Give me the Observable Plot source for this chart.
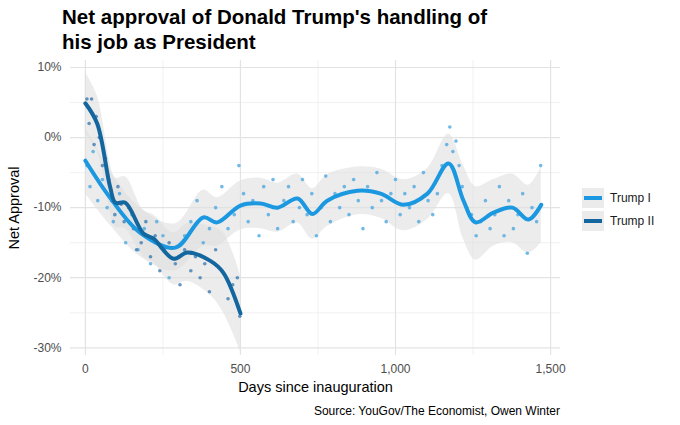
<!DOCTYPE html>
<html><head><meta charset="utf-8">
<script src="https://cdn.jsdelivr.net/npm/d3@7"></script>
<script src="https://cdn.jsdelivr.net/npm/@observablehq/plot@0.6"></script>
<style>
body{margin:0;width:680px;height:425px;background:#fff;font-family:"Liberation Sans",Arial,sans-serif;position:relative;overflow:hidden}
#title{position:absolute;left:62px;top:4px;font-size:20.5px;font-weight:bold;line-height:25px;color:#000}
#plot{position:absolute;left:0;top:58px}
#legend{position:absolute;left:582px;top:186px;font-size:12px;color:#1a1a1a}
.li{display:flex;align-items:center;height:23px}
.sw{width:22px;height:20px;background:#ebebeb;position:relative;margin-right:6px}
.sw i{position:absolute;left:2px;right:2px;top:8px;height:4px}
#cap{position:absolute;right:120px;top:404px;font-size:12px;color:#000}
</style></head><body>
<div id="title">Net approval of Donald Trump's handling of<br>his job as President</div>
<div id="plot"></div>
<div id="legend"><div class="li"><div class="sw"><i style="background:#1b98e0"></i></div>Trump I</div><div class="li"><div class="sw"><i style="background:#14669f"></i></div>Trump II</div></div>
<div id="cap">Source: YouGov/The Economist, Owen Winter</div>
<script>
const xTicks=[0,500,1000,1500];
const xMinor=[250,750,1250];
const yTicks=[10,0,-10,-20,-30];
const yMinor=[5,-5,-15,-25];
// smoothed lines (day, net approval %)
const t1Days=[0,80,177,290,380,425,500,565,620,684,732,780,877,952,1026,1103,1171,1219,1258,1316,1377,1429,1470];
const t1Vals=[-3.3,-8.6,-13.6,-15.7,-11.4,-12.1,-9.7,-9.4,-10,-8.7,-10.9,-9,-7.6,-8,-9.6,-8,-3.7,-9,-12.1,-10.7,-10,-11.7,-9.6];
const t1Lo=[-8,-12.5,-17,-19,-15.5,-15.5,-13.2,-13,-13.5,-12.2,-14.5,-12.7,-11,-11.5,-13.3,-11.7,-8,-14.5,-17.5,-15.5,-15,-16.5,-15];
const t1Hi=[1.5,-4.7,-10,-12.3,-7.5,-8.6,-6.2,-5.8,-6.5,-5.2,-7.3,-5.3,-4.2,-4.5,-6,-4.4,0.5,-4,-7,-6,-5.2,-6.8,-4.2];
const t2Days=[0,38,80,97,129,187,219,284,329,403,445,500];
const t2Vals=[4.9,2,-7.1,-9.3,-9.3,-13.7,-14.4,-17.3,-16.4,-17.6,-19.3,-25.1];
const t2Lo=[0.5,-2,-10.5,-12.8,-13,-17,-17.8,-21,-20.5,-22.5,-25,-30.5];
const t2Hi=[9.3,6,-3.7,-5.8,-5.6,-10.4,-11,-13.6,-12.3,-12.7,-13.6,-19.7];
// poll points
const t1PtDays=[5,15,25,40,55,70,90,110,130,150,170,190,210,230,250,270,300,320,340,360,380,400,420,440,460,480,495,510,525,540,560,575,590,605,620,640,655,670,690,700,715,730,745,760,775,790,805,820,835,850,865,880,895,910,925,940,955,970,985,1000,1015,1030,1045,1060,1075,1090,1105,1120,1135,1150,1165,1175,1185,1195,1205,1215,1230,1245,1260,1275,1290,1305,1320,1335,1350,1365,1380,1395,1410,1425,1440,1455,1468];
const t1PtVals=[-4,-7,-2,-9,-6,-10,-12,-8,-15,-11,-16,-13,-18,-12,-14,-20,-17,-14,-12,-9,-15,-13,-10,-7,-13,-11,-4,-8,-12,-9,-14,-7,-11,-6,-13,-9,-7,-12,-10,-6,-11,-8,-14,-10,-5.5,-12,-8,-10,-7,-11,-6,-9,-13,-7,-10,-5,-9,-12,-8,-6,-11,-8,-10,-7,-12,-5,-9,-11,-8,-4,-1,1.5,-2,-0.5,-4,-7,-10,-11,-14,-12,-9,-13,-11,-7,-14,-9,-13,-11,-8,-16.5,-10,-12,-4];
const t2PtDays=[5,12,20,28,35,45,55,65,75,85,95,105,115,125,140,155,165,180,195,210,225,240,255,270,290,305,320,340,355,370,385,400,420,440,460,475,490,498];
const t2PtVals=[5.5,2,5.5,-1,3,0,-4,-3,-6,-9,-11,-7,-9.5,-12,-10,-13,-16,-15,-12,-17,-14,-19,-16,-15,-18,-21,-16,-19,-17,-20,-18,-22,-16,-19,-23,-21,-20,-25.5];
const t1=t1Days.map((d,i)=>({d,v:t1Vals[i],lo:t1Lo[i],hi:t1Hi[i]}));
const t2=t2Days.map((d,i)=>({d,v:t2Vals[i],lo:t2Lo[i],hi:t2Hi[i]}));
const p1=t1PtDays.map((d,i)=>({d,v:t1PtVals[i]}));
const p2=t2PtDays.map((d,i)=>({d,v:t2PtVals[i]}));
const curve="catmull-rom";
const plot=Plot.plot({
  width:680,height:340,marginLeft:70,marginRight:120,marginTop:2,marginBottom:43,
  style:{fontFamily:"Liberation Sans, Arial, sans-serif",fontSize:"12px",color:"#4d4d4d",background:"#fff"},
  x:{domain:[-48,1532],ticks:xTicks,tickFormat:d3.format(","),tickSize:0,label:"Days since inauguration",labelAnchor:"center",labelArrow:"none",labelOffset:36},
  y:{domain:[-31.1,11],ticks:yTicks,tickFormat:d=>d+"%",tickSize:0,label:"Net Approval",labelAnchor:"center",labelArrow:"none",labelOffset:62},
  marks:[
    Plot.ruleX(xMinor,{stroke:"#ebebeb",strokeWidth:0.7}),
    Plot.ruleY(yMinor,{stroke:"#ebebeb",strokeWidth:0.7}),
    Plot.ruleX(xTicks,{stroke:"#e3e3e3",strokeWidth:1.2}),
    Plot.ruleY(yTicks,{stroke:"#e3e3e3",strokeWidth:1.2}),
    Plot.areaY(t1,{x:"d",y1:"lo",y2:"hi",fill:"#e0e0e0",fillOpacity:0.6,curve}),
    Plot.areaY(t2,{x:"d",y1:"lo",y2:"hi",fill:"#e0e0e0",fillOpacity:0.6,curve}),
    Plot.dot(p1,{x:"d",y:"v",r:1.8,fill:"#4ea8e0",fillOpacity:0.8}),
    Plot.dot(p2,{x:"d",y:"v",r:1.8,fill:"#3d7cb3",fillOpacity:0.8}),
    Plot.line(t1,{x:"d",y:"v",stroke:"#1b98e0",strokeWidth:4,curve}),
    Plot.line(t2,{x:"d",y:"v",stroke:"#14669f",strokeWidth:4,curve})
  ]
});
plot.querySelectorAll('[aria-label="x-axis label"], [aria-label="y-axis label"]').forEach(g=>{g.style.fontSize="14.5px";g.style.fill="#000";g.setAttribute("fill","#000")});
document.getElementById("plot").appendChild(plot);
</script></body></html>
